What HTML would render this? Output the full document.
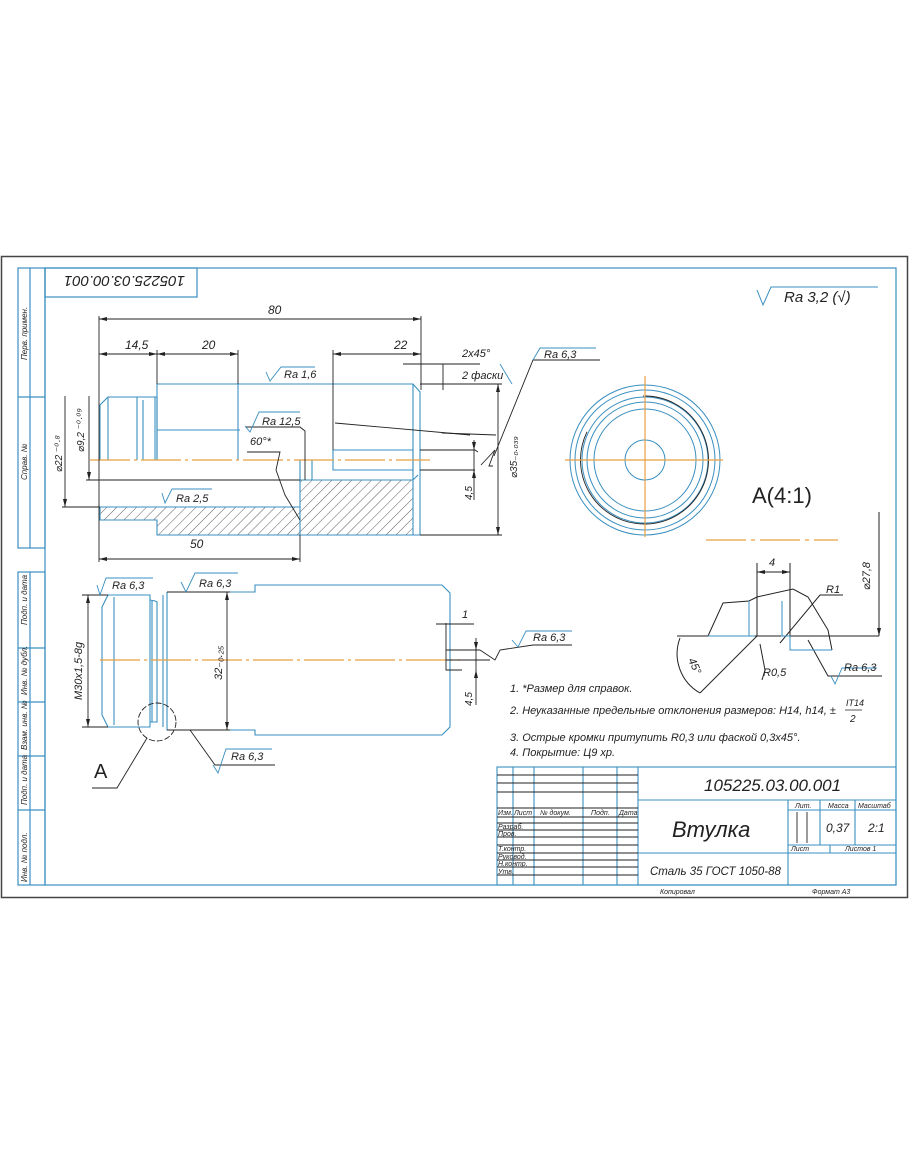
<!DOCTYPE html>
<html><head><meta charset="utf-8">
<style>
html,body{margin:0;padding:0;background:#fff;}
svg{display:block;}
text{font-family:"Liberation Sans","DejaVu Sans",sans-serif;font-style:italic;fill:#222;}
</style></head>
<body>
<svg width="910" height="1155" viewBox="0 0 910 1155" xmlns="http://www.w3.org/2000/svg">
<defs>
<pattern id="h" patternUnits="userSpaceOnUse" width="7" height="7" patternTransform="rotate(45)">
<line x1="0" y1="0" x2="0" y2="7" stroke="#333" stroke-width="0.8"/>
</pattern>
</defs>
<rect x="1.5" y="256.5" width="906" height="641" fill="none" stroke="#444" stroke-width="1.5"/>
<g fill="none" stroke="#3a8fc0" stroke-width="1.2">
<rect x="45" y="268" width="851" height="617"/>
<rect x="18" y="268" width="27" height="280"/>
<line x1="30" y1="268" x2="30" y2="548"/>
<line x1="18" y1="397" x2="45" y2="397"/>
<rect x="18" y="572" width="27" height="313"/>
<line x1="30" y1="572" x2="30" y2="885"/>
<line x1="18" y1="648" x2="45" y2="648"/>
<line x1="18" y1="702" x2="45" y2="702"/>
<line x1="18" y1="756" x2="45" y2="756"/>
<line x1="18" y1="810" x2="45" y2="810"/>
<rect x="45" y="268" width="152" height="29"/>
</g>
<g font-size="8">
<text transform="translate(27,360) rotate(-90)">Перв. примен.</text>
<text transform="translate(27,480) rotate(-90)">Справ. №</text>
<text transform="translate(27,625) rotate(-90)">Подп. и дата</text>
<text transform="translate(27,695) rotate(-90)">Инв. № дубл.</text>
<text transform="translate(27,750) rotate(-90)">Взам. инв. №</text>
<text transform="translate(27,805) rotate(-90)">Подп. и дата</text>
<text transform="translate(27,882) rotate(-90)">Инв. № подл.</text>
</g>
<text transform="translate(185,276) rotate(180)" font-size="15">105225.03.00.001</text>

<polyline points="757,290 763,305 771,287 878,287" fill="none" stroke="#3a8fc0" stroke-width="1"/>
<text x="784" y="302" font-size="15">Ra 3,2 (√)</text>

<polygon points="100,507 300,507 300,535 157,535 157,520 100,520" fill="url(#h)"/>
<polygon points="300,480 413,480 413,535 300,535" fill="url(#h)"/>
<g fill="none" stroke="#3a8fc0" stroke-width="1.1">
<polyline points="100,460 100,405 108,397 157,397 157,460"/>
<line x1="108" y1="397" x2="108" y2="460"/>
<line x1="137" y1="397" x2="137" y2="460"/>
<line x1="143" y1="400" x2="143" y2="460"/>
<line x1="155" y1="397" x2="155" y2="460"/>
<polyline points="157,460 157,384 413,384 420,392 420,535"/>
<line x1="157" y1="430" x2="240" y2="430"/>
<line x1="238" y1="384" x2="238" y2="460"/>
<line x1="413" y1="384" x2="413" y2="535"/>
<polyline points="333,450 413,450 413,470 333,470 333,450"/>
<polyline points="300,460 300,535"/>
<polyline points="100,507 100,520 157,520 157,535 420,535"/>
<line x1="100" y1="507" x2="300" y2="507"/>
<line x1="312" y1="460" x2="312" y2="480"/>
<line x1="300" y1="480" x2="413" y2="480"/>
<polyline points="413,480 418,475"/>
</g>
<line x1="90" y1="460" x2="430" y2="460" stroke="#e8a040" stroke-width="1.2" stroke-dasharray="40,4,3,4"/>
<g fill="none" stroke="#222" stroke-width="0.9">
<line x1="99" y1="316" x2="99" y2="562"/>
<line x1="421" y1="316" x2="421" y2="390"/>
<line x1="99" y1="319" x2="421" y2="319"/>
<line x1="99" y1="354" x2="157" y2="354"/>
<line x1="157" y1="350" x2="157" y2="384"/>
<line x1="157" y1="354" x2="238" y2="354"/>
<line x1="238" y1="350" x2="238" y2="384"/>
<line x1="333" y1="350" x2="333" y2="450"/>
<line x1="333" y1="354" x2="421" y2="354"/>
<line x1="99" y1="559" x2="300" y2="559"/>
<line x1="300" y1="535" x2="300" y2="562"/>
<line x1="65" y1="396" x2="65" y2="507"/>
<line x1="62" y1="507" x2="100" y2="507"/>
<line x1="89" y1="396" x2="89" y2="480"/>
<line x1="86" y1="480" x2="300" y2="480"/>
<line x1="498" y1="384" x2="498" y2="535"/>
<line x1="420" y1="384" x2="502" y2="384"/>
<line x1="420" y1="535" x2="502" y2="535"/>
<line x1="443" y1="364" x2="443" y2="390"/>
<line x1="403" y1="364" x2="480" y2="364"/>
<line x1="335" y1="423" x2="470" y2="435"/>
<line x1="442" y1="433" x2="496" y2="435"/>
<line x1="474" y1="440" x2="474" y2="500"/>
<polyline points="420,450 475,450 478,452"/>
<polyline points="420,470 475,470"/>
<polyline points="481,465 495,450 489,466 493,466"/>
<polyline points="494,456 533,360 600,360"/>
<polyline points="246,427 300,427 305,431 305,480"/>
<polyline points="247,452 280,452 276,470 285,495 300,520"/>
</g>
<g fill="#222">
<polygon points="99,319 107,317 107,321"/><polygon points="421,319 413,317 413,321"/>
<polygon points="99,354 107,352 107,356"/><polygon points="157,354 149,352 149,356"/>
<polygon points="157,354 165,352 165,356"/><polygon points="238,354 230,352 230,356"/>
<polygon points="333,354 341,352 341,356"/><polygon points="421,354 413,352 413,356"/>
<polygon points="99,559 107,557 107,561"/><polygon points="300,559 292,557 292,561"/>
<polygon points="498,384 496,392 500,392"/><polygon points="498,535 496,527 500,527"/>
<polygon points="89,480 87,472 91,472"/><polygon points="65,507 63,499 67,499"/>
<polygon points="474,450 472,442 476,442"/><polygon points="474,470 472,478 476,478"/>
</g>
<g fill="none" stroke="#3a8fc0" stroke-width="0.9">
<polyline points="266,372 270,381 281,367 315,367"/>
<polyline points="245,426 250,432 259,412 300,412"/>
<polyline points="162,493 165,503 172,489 212,489"/>
<polyline points="500,364 512,384"/>
<polyline points="533,360 540,348 596,348"/>
</g>
<g font-size="12">
<text x="268" y="314">80</text>
<text x="125" y="349">14,5</text>
<text x="202" y="349">20</text>
<text x="394" y="349">22</text>
<text x="190" y="548">50</text>
<text x="284" y="378" font-size="11">Ra 1,6</text>
<text x="262" y="425" font-size="11">Ra 12,5</text>
<text x="250" y="445" font-size="11">60°*</text>
<text x="176" y="502" font-size="11">Ra 2,5</text>
<text x="462" y="357" font-size="11">2x45°</text>
<text x="462" y="379" font-size="11">2 фаски</text>
<text x="544" y="358" font-size="11">Ra 6,3</text>
<text transform="translate(62,472) rotate(-90)" font-size="10">⌀22 ⁻⁰·⁸</text>
<text transform="translate(84,452) rotate(-90)" font-size="10">⌀9,2 ⁻⁰·⁰⁹</text>
<text transform="translate(472,500) rotate(-90)" font-size="10">4,5</text>
<text transform="translate(517,478) rotate(-90)" font-size="10">⌀35₋₀.₀₃₉</text>
</g>

<g fill="none" stroke="#3a8fc0" stroke-width="1.1">
<polyline points="108,595 150,595 150,727 108,727 102,715 102,607 108,595"/>
<line x1="114" y1="597" x2="114" y2="725"/>
<polyline points="150,600 155,601 157,602 157,722 150,722"/>
<line x1="152" y1="601" x2="152" y2="722"/>
<polyline points="167,592 255,592 255,585 442,585 450,593 450,727 442,735 255,735 255,730 167,730 167,592"/>
<line x1="163" y1="595" x2="163" y2="727"/>
</g>
<line x1="100" y1="660" x2="460" y2="660" stroke="#e8a040" stroke-width="1.2" stroke-dasharray="40,4,3,4"/>
<g fill="none" stroke="#222" stroke-width="0.9">
<line x1="82" y1="595" x2="108" y2="595"/>
<line x1="82" y1="727" x2="108" y2="727"/>
<line x1="88" y1="595" x2="88" y2="727"/>
<line x1="167" y1="592" x2="230" y2="592"/>
<line x1="167" y1="730" x2="230" y2="730"/>
<line x1="227" y1="592" x2="227" y2="730"/>
<circle cx="157" cy="722" r="19" stroke-dasharray="6,2"/>
<polyline points="147,738 117,788 92,788"/>
<polyline points="190,730 215,765 275,765"/>
<polyline points="446,623 446,670 462,670"/>
<line x1="436" y1="624" x2="474" y2="624"/>
<line x1="446" y1="650" x2="480" y2="650"/>
<line x1="476" y1="638" x2="476" y2="705"/>
<polyline points="480,650 495,660 500,650 533,645 572,645"/>
<polyline points="446,660 490,660"/>
</g>
<g fill="#222">
<polygon points="88,595 86,603 90,603"/><polygon points="88,727 86,719 90,719"/>
<polygon points="227,592 225,600 229,600"/><polygon points="227,730 225,722 229,722"/>
<polygon points="476,650 474,642 478,642"/><polygon points="476,670 474,678 478,678"/>
</g>
<g fill="none" stroke="#3a8fc0" stroke-width="0.9">
<polyline points="97,585 100,595 106,578 153,578"/>
<polyline points="181,582 186,592 195,573 238,573"/>
<polyline points="213,765 218,773 226,749 272,749"/>
<polyline points="512,640 518,647 526,631 572,631"/>
</g>
<g font-size="11">
<text x="112" y="589">Ra 6,3</text>
<text x="199" y="587">Ra 6,3</text>
<text x="231" y="760">Ra 6,3</text>
<text x="533" y="641">Ra 6,3</text>
<text x="462" y="618">1</text>
<text x="94" y="778" font-size="20" style="font-style:normal">A</text>
<text transform="translate(82,700) rotate(-90)">M30x1,5-8g</text>
<text transform="translate(222,680) rotate(-90)">32₋₀.₂₅</text>
<text transform="translate(472,706) rotate(-90)" font-size="10">4,5</text>
</g>

<g fill="none" stroke="#3a8fc0" stroke-width="1">
<circle cx="645" cy="460" r="75"/>
<circle cx="645" cy="460" r="70"/>
<circle cx="645" cy="460" r="63"/>
<circle cx="645" cy="460" r="58"/>
<circle cx="645" cy="460" r="51"/>
<circle cx="645" cy="460" r="20"/>
</g>
<path d="M645,396 A64,64 0 1 1 644,396" fill="none" stroke="#222" stroke-width="0.9" stroke-dasharray="330,70"/>
<g stroke="#e8a040" stroke-width="1.2">
<line x1="565" y1="460" x2="723" y2="460"/>
<line x1="645" y1="376" x2="645" y2="537"/>
</g>
<text x="752" y="503" font-size="22" style="font-style:normal">A(4:1)</text>

<line x1="706" y1="540" x2="838" y2="540" stroke="#e8a040" stroke-width="1.2" stroke-dasharray="40,5,4,5"/>
<g fill="none" stroke="#222" stroke-width="1">
<polyline points="708,636 723,603 749,601 757,597 793,589 808,597 828,630 832,650"/>
<line x1="677" y1="636" x2="879" y2="636"/>
<line x1="757" y1="563" x2="757" y2="636"/>
<line x1="790" y1="563" x2="790" y2="636"/>
<line x1="757" y1="572" x2="790" y2="572"/>
<line x1="879" y1="512" x2="879" y2="636"/>
<polyline points="780,643 820,595 843,595"/>
<polyline points="757,636 700,693"/>
<path d="M680,638 A45,45 0 0 0 700,693" />
<polyline points="760,644 765,670 762,680"/>
<polyline points="808,640 828,676 882,676"/>
</g>
<g fill="none" stroke="#3a8fc0" stroke-width="1">
<polyline points="708,636 755,636"/>
<line x1="749" y1="601" x2="749" y2="636"/>
<polyline points="781,636 790,636 790,650 832,650"/>
<line x1="782" y1="601" x2="782" y2="636"/>
</g>
<polyline points="831,676 835,684 842,668 877,668" fill="none" stroke="#3a8fc0" stroke-width="0.9"/>
<g fill="#222">
<polygon points="757,572 765,570 765,574"/><polygon points="790,572 782,570 782,574"/>
<polygon points="879,636 877,628 881,628"/>
</g>
<g font-size="11">
<text x="769" y="566">4</text>
<text x="826" y="593">R1</text>
<text x="763" y="676">R0,5</text>
<text x="844" y="671">Ra 6,3</text>
<text transform="translate(870,590) rotate(-90)">⌀27,8</text>
<text transform="translate(688,660) rotate(65)">45°</text>
</g>

<g font-size="11">
<text x="510" y="692">1. *Размер для справок.</text>
<text x="510" y="714">2. Неуказанные предельные отклонения размеров: H14, h14, ±</text>
<text x="846" y="706" font-size="9">IT14</text>
<line x1="845" y1="710" x2="862" y2="710" stroke="#222" stroke-width="0.8"/>
<text x="850" y="722" font-size="10">2</text>
<text x="510" y="741">3. Острые кромки притупить R0,3 или фаской 0,3x45°.</text>
<text x="510" y="756">4. Покрытие: Ц9 хр.</text>
</g>

<g fill="none" stroke="#3a8fc0" stroke-width="1.1">
<rect x="497" y="767" width="399" height="118"/>
<line x1="638" y1="767" x2="638" y2="885"/>
<line x1="638" y1="800" x2="896" y2="800"/>
<line x1="638" y1="853" x2="896" y2="853"/>
<line x1="788" y1="800" x2="788" y2="885"/>
<line x1="788" y1="845" x2="896" y2="845"/>
<line x1="788" y1="810" x2="896" y2="810"/>
<line x1="820" y1="800" x2="820" y2="845"/>
<line x1="855" y1="800" x2="855" y2="845"/>
<line x1="830" y1="845" x2="830" y2="853"/>
<line x1="513" y1="767" x2="513" y2="885"/>
<line x1="534" y1="767" x2="534" y2="885"/>
<line x1="583" y1="767" x2="583" y2="885"/>
<line x1="617" y1="767" x2="617" y2="885"/>
</g>
<g stroke="#222" stroke-width="0.9">
<line x1="497" y1="775" x2="638" y2="775"/>
<line x1="497" y1="783" x2="638" y2="783"/>
<line x1="497" y1="792" x2="638" y2="792"/>
<line x1="497" y1="808" x2="638" y2="808"/>
<line x1="497" y1="817" x2="638" y2="817"/>
<line x1="497" y1="823" x2="638" y2="823"/>
<line x1="497" y1="830" x2="638" y2="830"/>
<line x1="497" y1="837" x2="638" y2="837"/>
<line x1="497" y1="845" x2="638" y2="845"/>
<line x1="497" y1="853" x2="638" y2="853"/>
<line x1="497" y1="860" x2="638" y2="860"/>
<line x1="497" y1="867" x2="638" y2="867"/>
<line x1="497" y1="875" x2="638" y2="875"/>
<line x1="797" y1="812" x2="797" y2="843"/>
<line x1="807" y1="812" x2="807" y2="843"/>
</g>
<g font-size="7">
<text x="498" y="815">Изм.</text><text x="514" y="815">Лист</text><text x="540" y="815">№ докум.</text><text x="591" y="815">Подп.</text><text x="619" y="815">Дата</text>
<text x="498" y="829">Разраб.</text><text x="498" y="836">Пров.</text><text x="498" y="851">Т.контр.</text>
<text x="498" y="859">Руковод.</text><text x="498" y="866">Н.контр.</text><text x="498" y="874">Утв.</text>
<text x="795" y="808">Лит.</text><text x="828" y="808">Масса</text><text x="858" y="808">Масштаб</text>
<text x="791" y="851">Лист</text><text x="845" y="851">Листов   1</text>
<text x="660" y="894">Копировал</text><text x="812" y="894">Формат   А3</text>
</g>
<text x="704" y="791" font-size="17">105225.03.00.001</text>
<text x="672" y="837" font-size="22">Втулка</text>
<text x="650" y="875" font-size="11.5">Сталь 35 ГОСТ 1050-88</text>
<text x="826" y="832" font-size="12">0,37</text>
<text x="868" y="832" font-size="12">2:1</text>
</svg>
</body></html>
